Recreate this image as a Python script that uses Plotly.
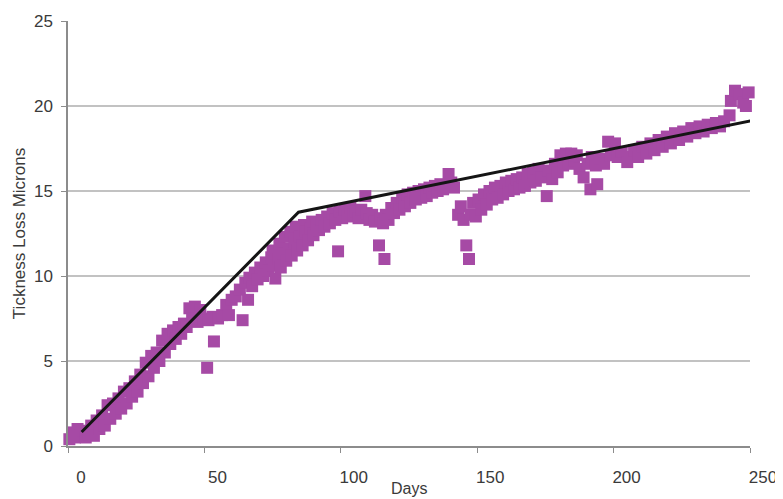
import plotly.graph_objects as go

# Measured points: (day, thickness loss in microns)
days = [0.5, 1.5, 2.5, 3.5, 4.5, 5.5, 6.5, 7.5, 8.5, 9.5, 10.5, 11.5, 12.5, 13.5, 14.5, 15.5,
        16.5, 17.5, 18.5, 19.5, 20.5, 21.5, 22.5, 23.5, 24.5, 25.5, 26.5, 27.5, 28.5, 29.5,
        30.5, 31.5, 32.5, 33.5, 34.5, 35.5, 36.5, 37.5, 38.5, 39.5, 40.5, 41.5, 42.5, 43.5,
        44.5, 45.5, 46.5, 47.5, 48.5, 49.5, 51, 51.5, 53.5, 53, 55, 56.5, 58, 59, 60, 61.5,
        63, 64, 66, 65, 66.5, 67.5, 68.5, 69.5, 70.5, 71.5, 72.5, 73.5, 74.5, 75, 75.5, 76,
        77, 77.5, 78, 79, 79.5, 80, 81, 81.5, 82, 83, 83.5, 84, 85, 86, 86.5, 87, 88, 89,
        89.5, 90, 91, 92, 93, 94, 95, 96, 97, 98, 99, 99.5, 100.5, 101.5, 102.5, 103.5,
        104.5, 105.5, 106.5, 107.5, 109, 109.5, 110.5, 111.5, 112.5, 114, 116, 114.5, 115.5,
        116.5, 117.5, 118.5, 119.5, 120.5, 121.5, 122.5, 123.5, 124.5, 125.5, 126.5, 127.5,
        128.5, 129.5, 130.5, 131.5, 132.5, 133.5, 134.5, 135.5, 136.5, 137.5, 139.5, 140.5,
        141.5, 143, 144, 145, 146, 147, 147.5, 148.5, 149.5, 150.5, 151.5, 152.5, 153.5,
        154.5, 155.5, 156.5, 157.5, 158.5, 159.5, 160.5, 161.5, 162.5, 163.5, 164.5, 165.5,
        166.5, 167.5, 168.5, 169.5, 170.5, 171.5, 172.5, 173.5, 175.5, 176, 177.5, 178.5,
        179.5, 180.5, 181.5, 182.5, 183.5, 184.5, 185.5, 186.5, 187.5, 189, 191.5, 194,
        190.5, 192, 193.5, 195, 196.5, 198, 200.5, 199, 201.5, 203, 205, 206, 207.5, 209,
        210.5, 212, 213.5, 215, 216.5, 218, 219.5, 221, 222.5, 224, 225.5, 227, 228.5, 230,
        231.5, 233, 234.5, 236, 237.5, 239, 240.5, 242.5, 243, 244.5, 246, 247.5, 248.5, 249.5]

loss = [0.4, 0.8, 0.5, 1.0, 0.6, 0.9, 0.5, 0.7, 1.2, 0.6, 1.5, 1.0, 1.8, 1.2, 2.4, 1.6,
        2.5, 1.9, 2.8, 2.2, 3.2, 2.5, 3.4, 2.9, 3.8, 3.2, 4.2, 3.7, 4.9, 4.1,
        5.3, 4.6, 5.5, 5.0, 6.2, 5.5, 6.6, 6.0, 6.8, 6.3, 7.0, 6.6, 7.2, 7.0,
        8.1, 7.5, 8.2, 7.3, 8.0, 7.5, 4.6, 7.4, 6.15, 7.6, 7.5, 7.7, 8.3, 7.7, 8.6, 8.8,
        9.2, 7.4, 8.6, 9.6, 9.9, 9.4, 10.2, 9.8, 10.5, 10.0, 10.8, 10.3, 11.1, 11.5, 10.6, 9.85,
        11.0, 11.9, 10.5, 11.3, 12.3, 10.9, 11.6, 12.6, 11.2, 12.0, 12.9, 11.5, 12.3, 11.8, 13.0, 12.6, 12.1, 12.8,
        13.2, 12.4, 13.0, 12.7, 13.3, 12.9, 13.5, 13.1, 13.7, 13.3, 11.45, 13.8, 13.4, 13.9, 13.5, 14.0,
        13.6, 13.8, 13.4, 13.9, 14.7, 13.7, 13.3, 13.6, 13.2, 11.8, 11.0, 13.4, 13.1,
        13.6, 13.3, 14.0, 13.7, 14.3, 13.9, 14.6, 14.1, 14.8, 14.3, 14.9, 14.5,
        15.0, 14.6, 15.1, 14.7, 15.2, 14.9, 15.3, 15.0, 15.4, 15.1, 16.0, 15.5,
        15.2, 13.6, 14.1, 13.3, 11.8, 11.0, 13.6, 14.3, 13.5, 14.5, 13.9, 14.8, 14.2,
        15.0, 14.5, 15.2, 14.6, 15.3, 14.8, 15.5, 15.0, 15.6, 15.1, 15.7, 15.2,
        15.8, 15.3, 16.0, 15.5, 16.1, 15.6, 16.3, 15.8, 14.7, 16.2, 15.7, 16.6,
        16.1, 17.1, 16.5, 17.2, 16.6, 17.2, 16.8, 17.1, 16.3, 15.8, 15.1, 15.4,
        16.6, 17.0, 16.5, 16.9, 16.6, 17.9, 17.8, 17.1, 17.0, 17.3, 16.7, 17.0, 17.4, 17.0,
        17.6, 17.2, 17.8, 17.4, 18.0, 17.6, 18.2, 17.8, 18.4, 18.0, 18.5, 18.2, 18.7, 18.4,
        18.8, 18.5, 18.9, 18.7, 19.0, 18.8, 19.1, 19.45, 20.3, 20.9, 20.7, 20.2, 20.0, 20.8]

# Bilinear trend line vertices
trend_days = [5, 84.5, 251]
trend_loss = [0.82, 13.75, 19.15]

x_ticks = [0, 50, 100, 150, 200, 250]
y_ticks = [0, 5, 10, 15, 20, 25]

FONT = "Liberation Sans, Arial, sans-serif"
TXT = "#3a3a3a"

fig = go.Figure()
fig.add_trace(go.Scatter(
    x=days, y=loss, mode="markers",
    marker=dict(symbol="square", size=12, color="#A64AA5", line=dict(width=0)),
    cliponaxis=False, showlegend=False, hoverinfo="skip"))
fig.add_trace(go.Scatter(
    x=trend_days, y=trend_loss, mode="lines",
    line=dict(color="#151515", width=3),
    cliponaxis=False, showlegend=False, hoverinfo="skip"))

# The page adds an 8px body margin, so the figure is sized to fill the rest.
fig.update_layout(
    width=775, height=491,
    margin=dict(l=60, r=33, t=13, b=53, autoexpand=False),
    paper_bgcolor="white", plot_bgcolor="white",
    font=dict(family=FONT, size=17, color=TXT),
    xaxis=dict(range=[0, 250], tickvals=x_ticks, ticktext=[str(v) for v in x_ticks],
               automargin=False,
               showgrid=False, zeroline=False, showline=True, linecolor="#8c8c8c", linewidth=1.5,
               ticks="outside", ticklen=5, tickcolor="#8c8c8c", tickwidth=1,
               ticklabelshift=13, ticklabelstandoff=10,
               tickfont=dict(family=FONT, size=17, color=TXT)),
    yaxis=dict(range=[0, 25], tickvals=y_ticks, ticktext=[str(v) for v in y_ticks],
               automargin=False,
               showgrid=True, gridcolor="#c2c2c2", gridwidth=1.5, zeroline=False,
               showline=True, linecolor="#8c8c8c", linewidth=1.5,
               ticks="outside", ticklen=5, tickcolor="#8c8c8c", tickwidth=1,
               ticklabelstandoff=5,
               tickfont=dict(family=FONT, size=17, color=TXT),
               title=dict(text="Tickness Loss Microns", standoff=4,
                          font=dict(family=FONT, size=17, color=TXT))),
    annotations=[dict(text="Days", xref="paper", yref="paper", x=0.5, y=-0.1,
                      xanchor="center", yanchor="middle", showarrow=False,
                      font=dict(family=FONT, size=16, color=TXT))],
)

fig.write_html("out.html")
